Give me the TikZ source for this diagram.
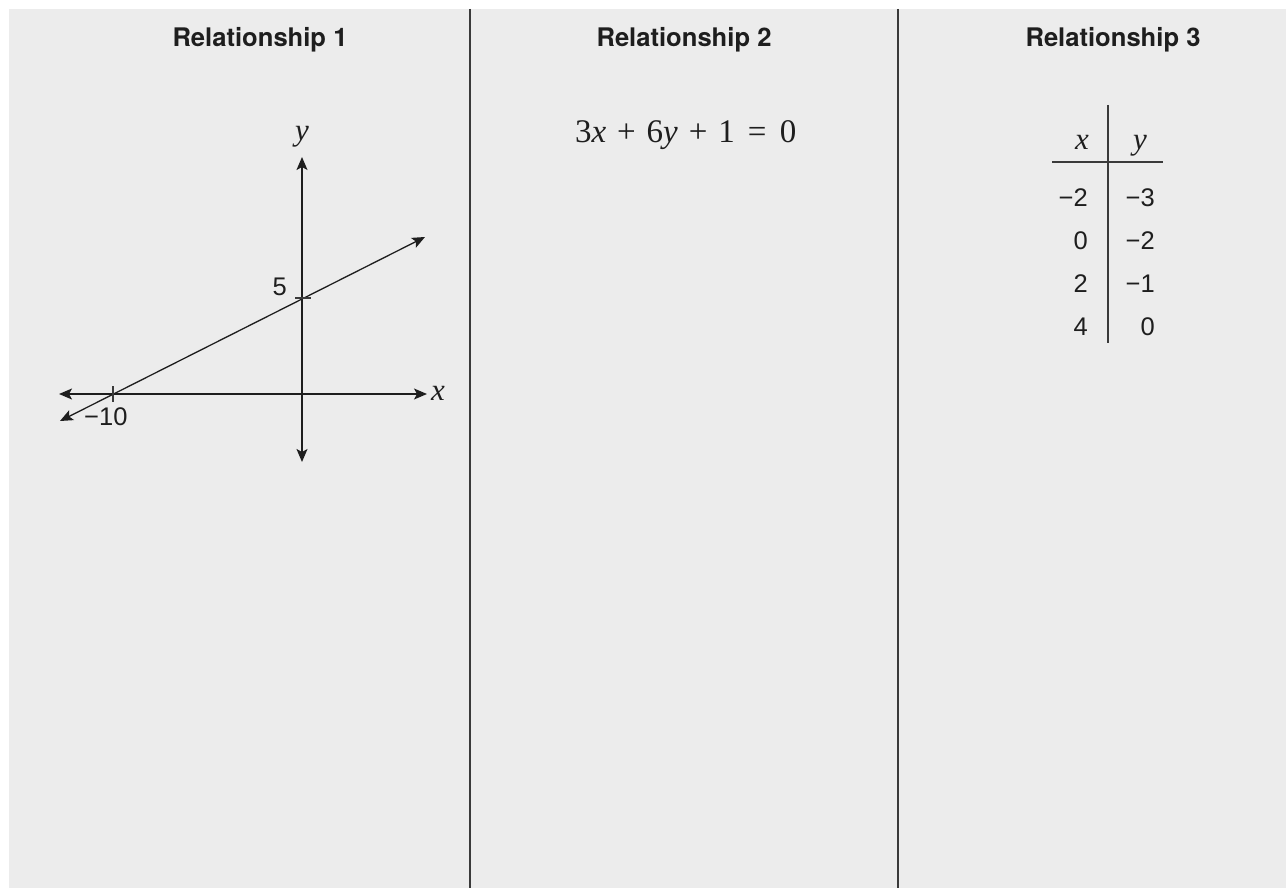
\documentclass[tikz,border=0pt]{standalone}
\usepackage{fontspec}
\setmainfont{TeX Gyre Heros}
\newfontfamily\tms{Liberation Serif}
\newfontfamily\arl{Liberation Sans}
\usetikzlibrary{arrows.meta}
\definecolor{bg}{HTML}{ECECEC}
\definecolor{ink}{HTML}{1E1E1E}
\definecolor{rule}{HTML}{3A3A3A}
\tikzset{
  head/.style={anchor=base,inner sep=0pt,text=ink,font=\bfseries\fontsize{25.6}{30}\selectfont},
  num/.style={inner sep=0pt,text=ink,font=\arl\fontsize{25.5}{30}\selectfont},
  var/.style={inner sep=0pt,text=ink,font=\tms\itshape\fontsize{31}{36}\selectfont},
  divider/.style={draw=rule,line width=1.6pt},
  axis/.style={draw=ink,line width=1.3pt,{Stealth[length=13pt,width=11pt,inset=3pt]}-{Stealth[length=13pt,width=11pt,inset=3pt]}},
  tick/.style={draw=rule,line width=1.2pt},
  tabline/.style={draw=rule,line width=1.4pt}
}
\begin{document}
\begin{tikzpicture}[x=1pt,y=-1pt]
\useasboundingbox (0,0) rectangle (1286,888);
\fill[bg] (9,9) rectangle (1286,888);
% dividers
\coordinate (d1t) at (470,9);
\coordinate (d1b) at (470,888);
\coordinate (d2t) at (898,9);
\coordinate (d2b) at (898,888);
\draw[divider] (d1t) -- (d1b);
\draw[divider] (d2t) -- (d2b);
% headers
\node[head] (h1) at (260,47) {Relationship 1};
\node[head] (h2) at (684,47) {Relationship 2};
\node[head] (h3) at (1113,47) {Relationship 3};
% graph
\coordinate (yt) at (302,157);
\coordinate (yb) at (302,462);
\coordinate (xl) at (59,394);
\coordinate (xr) at (427,394);
\coordinate (ll) at (60,421);
\coordinate (lr) at (425,237);
\draw[axis] (yb) -- (yt);
\draw[axis] (xl) -- (xr);
\draw[axis] (ll) -- (lr);
\coordinate (t1a) at (113,386);
\coordinate (t1b) at (113,402);
\coordinate (t2a) at (295,298);
\coordinate (t2b) at (311,298);
\draw[tick] (t1a) -- (t1b);
\draw[tick] (t2a) -- (t2b);
\node[num,anchor=base east] (five) at (287,295) {5};
\node[num,anchor=base west] (mten) at (84,425) {−10};
\node[var,anchor=base] (ylab) at (302,141) {y};
\node[var,anchor=base west] (xlab) at (431,400) {x};
% equation
\node[anchor=base west,inner sep=0pt,text=ink,font=\tms\fontsize{33}{38}\selectfont] (eq) at (575,143)
  {3\textit{x}\hspace{0.33em}+\hspace{0.33em}6\textit{y}\hspace{0.33em}+\hspace{0.33em}1\hspace{0.4em}=\hspace{0.4em}0};
% table
\coordinate (vt) at (1108,105);
\coordinate (vb) at (1108,343);
\coordinate (hl) at (1052,162);
\coordinate (hr) at (1163,162);
\draw[tabline] (vt) -- (vb);
\draw[tabline] (hl) -- (hr);
\node[var,anchor=base] (tx) at (1082,150) {x};
\node[var,anchor=base] (ty) at (1140,150) {y};
\node[num,anchor=base east] (a1) at (1088,207) {−2};
\node[num,anchor=base east] (a2) at (1088,249) {0};
\node[num,anchor=base east] (a3) at (1088,292) {2};
\node[num,anchor=base east] (a4) at (1088,335) {4};
\node[num,anchor=base east] (b1) at (1155,207) {−3};
\node[num,anchor=base east] (b2) at (1155,249) {−2};
\node[num,anchor=base east] (b3) at (1155,292) {−1};
\node[num,anchor=base east] (b4) at (1155,335) {0};
\end{tikzpicture}
\end{document}
